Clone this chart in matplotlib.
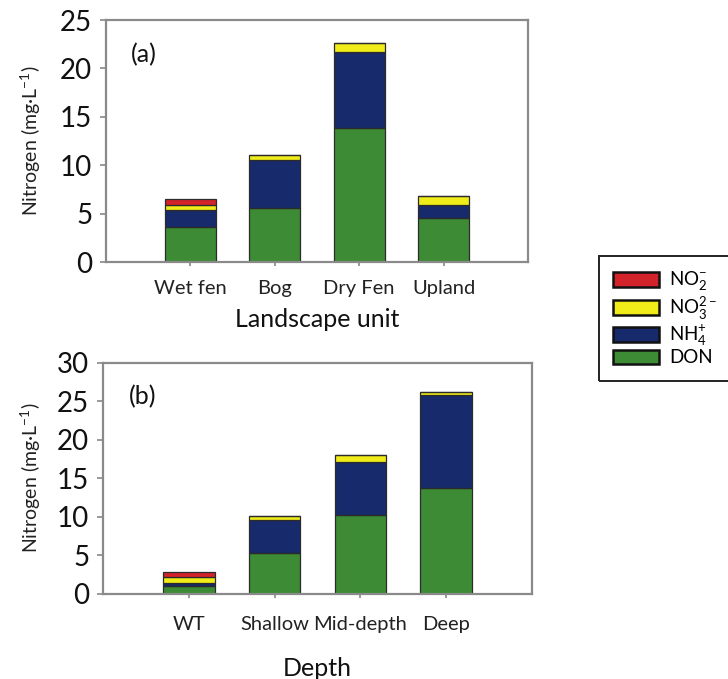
import numpy as np
import matplotlib
matplotlib.use("Agg")
import matplotlib.pyplot as plt
from matplotlib.patches import Patch, Rectangle

plt.rcParams["font.family"] = ["Lato", "DejaVu Sans"]
plt.rcParams["mathtext.fontset"] = "custom"
plt.rcParams["mathtext.rm"] = "Lato"

# panel (a): landscape units
units = ["Wet fen", "Bog", "Dry Fen", "Upland"]
don_a = [3.6, 5.6, 13.8, 4.5]
nh4_a = [1.8, 4.9, 7.9, 1.4]
no3_a = [0.5, 0.6, 0.9, 0.9]
no2_a = [0.6, 0.0, 0.0, 0.0]

# panel (b): depth
depths = ["WT", "Shallow", "Mid-depth", "Deep"]
don_b = [1.1, 5.3, 10.3, 13.8]
nh4_b = [0.3, 4.3, 6.8, 12.0]
no3_b = [0.85, 0.5, 0.95, 0.4]
no2_b = [0.55, 0.0, 0.0, 0.0]

species = ["NO$_2^{-}$", "NO$_3^{2-}$", "NH$_4^{+}$", "DON"]
colors = {"DON": "#3d8c35", "NH4": "#172a6c", "NO3": "#f0ec1a", "NO2": "#d2232a"}

fig = plt.figure(figsize=(7.28, 6.79), dpi=100)
ax_a = fig.add_axes([0.1456, 0.6141, 0.5797, 0.3564])
ax_b = fig.add_axes([0.1415, 0.1252, 0.5893, 0.3409])


def stacked(ax, labels, don, nh4, no3, no2, ymax, xlab, tag):
    x = np.arange(1, len(labels) + 1)
    bottom = np.zeros(len(labels))
    for vals, key in [(don, "DON"), (nh4, "NH4"), (no3, "NO3"), (no2, "NO2")]:
        vals = np.array(vals)
        ax.bar(x, vals, width=0.6, bottom=bottom, color=colors[key],
               edgecolor="#2b2b2b", linewidth=0.9)
        bottom = bottom + vals
    ax.set_xlim(0, 5)
    ax.set_ylim(0, ymax)
    ax.set_yticks(np.arange(0, ymax + 1, 5))
    ax.set_xticks(x)
    ax.set_xticklabels(labels, fontsize=14.5, color="#222222")
    ax.tick_params(axis="y", labelsize=20, length=4, width=1.2, color="#888888",
                   pad=6, labelcolor="#111111")
    ax.tick_params(axis="x", length=3, width=1.2, color="#888888", pad=10)
    for s in ax.spines.values():
        s.set_color("#8a8a8a")
        s.set_linewidth(1.6)
    ax.set_ylabel("Nitrogen (mg·L$^{-1}$)", fontsize=14, color="#222222", labelpad=12)
    ax.set_xlabel(xlab, fontsize=18, color="#111111", labelpad=8)
    ax.text(0.06, 0.905, tag, transform=ax.transAxes, fontsize=18,
            va="top", ha="left", color="#111111")


stacked(ax_a, units, don_a, nh4_a, no3_a, no2_a, 25, "Landscape unit", "(a)")
stacked(ax_b, depths, don_b, nh4_b, no3_b, no2_b, 30, "Depth", "(b)")
ax_b.tick_params(axis="x", pad=13)
ax_b.xaxis.labelpad = 17
ax_b.yaxis.labelpad = 10

# legend box runs off the right edge of the figure
fig.patches.append(Rectangle((599 / 728, 1 - 381 / 679), 140 / 728, 125 / 679,
                             transform=fig.transFigure, fill=False,
                             edgecolor="#222222", linewidth=1.4))
handles = [Patch(facecolor=colors[k], edgecolor="#111111", linewidth=1.8)
           for k in ["NO2", "NO3", "NH4", "DON"]]
leg = fig.legend(handles, species, loc="upper left",
                 bbox_to_anchor=(613 / 728, 1 - 270 / 679),
                 frameon=False, fontsize=13.5,
                 handlelength=2.45, handleheight=0.8, handletextpad=0.55,
                 labelspacing=0.05, borderpad=0, borderaxespad=0)

fig.savefig("out.png", dpi=100)
